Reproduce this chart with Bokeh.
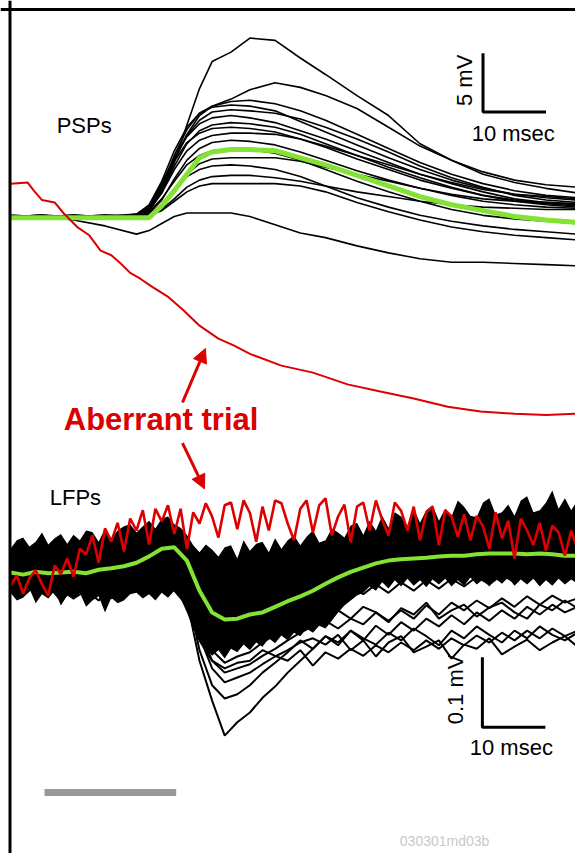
from math import pi
from bokeh.plotting import figure
from bokeh.models import Range1d, Span, Label, Arrow, NormalHead
from bokeh.embed import file_html
from bokeh.resources import INLINE

RED = "#dd0000"
GREEN = "#84e234"

# ---------------- PSPs (mV, relative to baseline) ----------------
psp_t = [0, 5, 10, 15, 20, 22, 24, 26, 28, 30, 32, 35, 38, 42, 46, 50, 55, 60, 65, 70, 75, 80, 85, 90]

psp_a = [0.0, 0.1, -0.1, 0.0, 0.2, 0.5, 2.0, 4.6, 7.8, 10.9, 13.2, 14.0, 15.2, 15.0, 13.5, 12.1, 10.3, 8.6, 6.2, 4.8, 3.6, 2.9, 2.4, 2.0]
psp_b = [0.0, -0.1, 0.1, 0.0, 0.1, 0.6, 2.2, 4.8, 7.0, 8.6, 9.4, 10.0, 10.8, 11.4, 11.0, 10.3, 9.2, 7.6, 6.0, 4.8, 3.8, 3.1, 2.7, 2.5]
psp_c = [0.0, 0.0, -0.2, 0.1, 0.0, 0.8, 2.6, 5.2, 7.4, 8.8, 9.4, 9.8, 9.9, 9.6, 9.0, 8.2, 7.0, 5.8, 4.6, 3.6, 2.8, 2.2, 1.8, 1.6]
psp_d = [0.1, 0.0, 0.1, -0.1, 0.2, 1.0, 3.0, 5.6, 7.6, 8.8, 9.3, 9.5, 9.4, 9.0, 8.1, 7.2, 6.1, 5.0, 4.0, 3.1, 2.4, 1.9, 1.6, 1.4]
psp_e = [-0.1, 0.0, 0.0, 0.1, 0.1, 0.7, 2.4, 4.8, 6.9, 8.2, 8.9, 9.1, 9.0, 8.8, 8.3, 7.6, 6.6, 5.5, 4.3, 3.3, 2.5, 1.8, 1.4, 1.2]
psp_f = [0.0, 0.1, 0.0, 0.0, 0.1, 0.9, 2.8, 5.0, 6.8, 7.9, 8.4, 8.6, 8.4, 8.0, 7.3, 6.6, 5.6, 4.6, 3.6, 2.8, 2.1, 1.5, 1.2, 1.0]
psp_g = [0.0, -0.1, 0.0, 0.1, 0.0, 0.5, 2.1, 4.3, 6.2, 7.3, 7.8, 8.0, 7.9, 7.6, 7.0, 6.2, 5.2, 4.2, 3.3, 2.5, 1.8, 1.3, 1.0, 0.8]
psp_h = [0.1, 0.0, 0.0, -0.1, 0.1, 0.6, 2.0, 4.0, 5.6, 6.5, 6.9, 7.1, 7.1, 7.0, 6.6, 6.0, 5.2, 4.4, 3.6, 2.9, 2.3, 1.9, 1.7, 1.5]
psp_i = [0.0, 0.0, 0.1, 0.0, -0.1, 0.3, 1.4, 3.2, 4.8, 5.8, 6.3, 6.5, 6.4, 6.1, 5.5, 4.8, 3.9, 3.1, 2.4, 1.8, 1.3, 1.0, 0.8, 0.7]
psp_j = [0.0, 0.1, 0.0, 0.0, 0.0, 0.2, 0.9, 2.2, 3.6, 4.5, 4.9, 5.0, 5.0, 5.0, 4.7, 4.2, 3.6, 3.0, 2.4, 1.9, 1.5, 1.3, 1.2, 1.1]
psp_k = [0.0, 0.0, -0.1, 0.0, 0.1, 0.3, 1.0, 2.3, 3.4, 4.0, 4.3, 4.4, 4.3, 4.0, 3.4, 2.6, 1.6, 0.8, 0.1, -0.4, -0.8, -1.1, -1.3, -1.5]
psp_l = [0.0, 0.0, 0.0, 0.1, -0.1, 0.1, 0.6, 1.5, 2.5, 3.1, 3.4, 3.5, 3.5, 3.3, 3.0, 2.6, 2.1, 1.7, 1.3, 1.0, 0.8, 0.7, 0.6, 0.6]
psp_m = [0.0, -0.1, 0.0, 0.0, 0.0, 0.1, 0.5, 1.3, 2.1, 2.6, 2.8, 2.8, 2.8, 2.8, 2.6, 2.1, 1.2, 0.4, -0.3, -0.9, -1.3, -1.6, -1.8, -2.0]
psp_o = [0.0, 0.0, 0.1, 0.0, 0.1, 0.7, 2.5, 4.7, 6.3, 7.1, 7.5, 7.6, 7.5, 7.2, 6.6, 5.9, 4.9, 4.0, 3.1, 2.4, 1.8, 1.4, 1.1, 0.9]
psp_p = [0.0, 0.1, -0.1, 0.0, 0.0, 0.4, 1.5, 3.0, 4.4, 5.2, 5.6, 5.8, 5.7, 5.4, 4.8, 4.0, 3.0, 2.1, 1.3, 0.6, 0.1, -0.2, -0.4, -0.6]
psp_z = [0.0, 0.0, -0.3, -0.8, -1.5, -1.2, -0.6, 0.0, 0.3, 0.3, 0.3, 0.3, 0.0, -0.7, -1.4, -1.8, -2.5, -3.1, -3.6, -3.9, -3.9, -4.0, -4.1, -4.2]

psp_mean = [-0.1, -0.1, -0.1, -0.1, -0.1, -0.1, 0.9, 2.2, 3.6, 5.0, 5.5, 5.7, 5.7, 5.6, 5.0, 4.4, 3.5, 2.6, 1.7, 1.0, 0.5, 0.0, -0.3, -0.5]

psp_red_t = [0, 2.7, 3.7, 5, 7, 8.4, 10.6, 12.5, 14.3, 16, 17.5, 19, 20.6, 22.5, 24.9, 27.5, 30, 33, 35.5, 38,
             43, 48, 53.5, 58.7, 64, 69.4, 74.6, 80, 85, 90]
psp_red = [2.8, 2.9, 2.2, 1.4, 1.2, 0.3, -0.9, -1.6, -2.9, -3.3, -4.0, -4.8, -5.3, -6.0, -6.8, -8.0, -9.3, -10.4, -11.0, -11.7,
           -12.7, -13.3, -14.3, -14.9, -15.5, -16.2, -16.6, -16.8, -16.9, -16.8]

# ---------------- LFPs (microvolts) ----------------
lfp_t1 = list(range(0, 91))      # 1 ms samples
lfp_t2 = list(range(0, 91, 2))   # 2 ms samples

lfp_band_top = [34, 46, 50, 37, 44, 57, 40, 49, 55, 41,
                54, 46, 60, 58, 44, 63, 49, 60, 66, 69,
                57, 66, 74, 63, 77, 80, 69, 64, 54, 39,
                29, 40, 33, 23, 36, 39, 20, 46, 31, 41,
                44, 29, 49, 34, 46, 53, 39, 51, 60, 43,
                46, 63, 57, 50, 67, 71, 54, 74, 60, 81,
                64, 86, 80, 67, 91, 71, 89, 96, 74, 91,
                80, 103, 94, 81, 79, 100, 106, 83, 86, 97,
                81, 103, 109, 86, 89, 100, 117, 91, 106, 89,
                103]
lfp_band_bottom = [-29, -40, -36, -23, -44, -31, -37, -26, -47, -33,
                   -39, -29, -49, -40, -34, -57, -36, -44, -40, -31,
                   -29, -37, -31, -40, -29, -36, -26, -37, -57, -80,
                   -97, -109, -119, -111, -123, -109, -114, -103, -111, -100,
                   -106, -94, -101, -90, -97, -86, -91, -80, -86, -76,
                   -80, -69, -57, -47, -40, -33, -29, -20, -26, -14,
                   -23, -11, -20, -9, -19, -11, -21, -10, -17, -9,
                   -20, -11, -19, -7, -17, -10, -20, -9, -16, -7,
                   -19, -10, -17, -9, -20, -11, -19, -9, -17, -10,
                   -16]

lfp_trial_1 = [-11, -26, -4, -23, -14, -31, -9, -26, -17, -11,
               0, 9, 17, 23, -40, -126, -183, -233, -214, -200,
               -179, -163, -143, -126, -109, -91, -104, -83, -97, -76,
               -89, -71, -83, -66, -77, -61, -74, -57, -69, -54,
               -66, -49, -60, -46, -57, -49]
lfp_trial_2 = [-19, -9, -29, -11, -20, -6, -26, -14, -4, -20,
               -9, 3, 10, 14, -26, -111, -161, -180, -174, -161,
               -143, -129, -114, -97, -109, -91, -100, -83, -94, -103,
               -86, -97, -80, -91, -104, -83, -94, -77, -89, -100,
               -83, -94, -77, -89, -97, -86]
lfp_trial_3 = [3, -14, -6, -23, -3, -17, -9, 3, -14, -4,
               6, 0, 17, 20, -11, -83, -126, -143, -137, -131,
               -119, -109, -97, -86, -77, -69, -80, -66, -74, -57,
               -69, -54, -66, -47, -60, -43, -54, -40, -51, -37,
               -49, -34, -46, -33, -43, -37]
lfp_trial_4 = [-26, -11, -33, -19, -40, -23, -34, -17, -37, -26,
               -20, -29, -17, -26, -47, -97, -126, -137, -129, -126,
               -111, -119, -126, -111, -133, -114, -123, -109, -119, -104,
               -114, -100, -111, -97, -109, -94, -104, -90, -100, -86,
               -97, -83, -94, -80, -91, -83]
lfp_trial_5 = [10, -4, 14, -9, 3, 9, -3, 14, 3, 10,
               20, 29, 34, 39, 10, -40, -76, -83, -71, -61,
               -54, -47, -40, -34, -29, -26, -37, -20, -31, -17,
               -29, -14, -26, -11, -23, -9, -20, -6, -17, -3,
               -14, 0, -11, 3, -9, -3]
lfp_trial_6 = [-14, -30, -9, -21, -34, -17, -26, -40, -20, -29,
               -14, -6, 3, 9, -23, -69, -111, -129, -120, -114,
               -100, -89, -80, -71, -63, -60, -54, -66, -49, -57,
               -71, -51, -60, -43, -66, -54, -46, -63, -50, -43,
               -57, -66, -46, -54, -40, -51]
lfp_trial_7 = [-23, -34, -17, -29, -11, -37, -26, -20, -33, -23,
               -14, -19, -6, -3, -34, -91, -137, -157, -150, -143,
               -131, -120, -111, -100, -94, -103, -89, -111, -97, -120,
               -100, -91, -114, -106, -97, -123, -103, -109, -94, -117,
               -106, -96, -111, -100, -91, -106]

lfp_mean = [0, -3, 1, -1, 0, 1, -1, 4, 6, 9,
            14, 23, 34, 36, 17, -26, -57, -67, -66, -60,
            -57, -49, -41, -34, -26, -16, -7, 1, 7, 13,
            17, 19, 20, 21, 23, 24, 24, 26, 27, 27,
            27, 26, 27, 26, 24, 24]

lfp_red = [-19, -4, -30, -8, 3, -17, -33, 10, -2, 20,
           -6, 34, 26, 53, 14, 63, 44, 71, 30, 77,
           60, 89, 40, 91, 73, 96, 55, 91, 33, 86,
           70, 99, 80, 50, 96, 100, 62, 103, 85, 44,
           94, 60, 103, 99, 70, 46, 91, 103, 57, 96,
           106, 53, 80, 97, 43, 94, 100, 60, 103, 75,
           53, 100, 88, 60, 94, 46, 86, 94, 39, 89,
           80, 51, 83, 46, 81, 66, 34, 86, 49, 74,
           20, 77, 60, 39, 71, 31, 67, 57, 24, 60,
           34]

# scale bars and stimulus bar
psp_bar_t0, psp_bar_v0, psp_bar_dt, psp_bar_dv = 75.0, 8.9, 10.0, 5.0
lfp_bar_t0, lfp_bar_v0, lfp_bar_dt, lfp_bar_dv = 74.9, -0.221, 10.0, 0.1
stim_t = [5.4, 26.3]
stim_v = [-49.06, -49.06]


def mv(u):
    return [x / 1000.0 for x in u]


p = figure(width=575, height=853,
           x_range=Range1d(-1.587, 89.68), y_range=Range1d(-54.26, 18.40),
           output_backend="svg", toolbar_location=None, min_border=0,
           x_axis_location=None, y_axis_location=None,
           outline_line_color=None, background_fill_color="white")
p.extra_y_ranges = {"lfp": Range1d(-0.4014, 0.8171)}
p.xgrid.visible = False
p.ygrid.visible = False

# frame (left and top)
p.add_layout(Span(location=-0.08, dimension="height", line_color="black", line_width=3))
p.add_layout(Span(location=17.63, dimension="width", line_color="black", line_width=3))

# PSP traces
for tr in [psp_a, psp_b, psp_c, psp_d, psp_e, psp_f, psp_g, psp_h,
           psp_i, psp_j, psp_k, psp_l, psp_m, psp_o, psp_p, psp_z]:
    p.line(psp_t, tr, line_color="black", line_width=1.6)
p.line(psp_t, psp_mean, line_color=GREEN, line_width=5)
p.line(psp_red_t, psp_red, line_color=RED, line_width=2)

# LFP traces
p.varea(x=lfp_t1, y1=mv(lfp_band_bottom), y2=mv(lfp_band_top), fill_color="black",
        y_range_name="lfp")
for tr in [lfp_trial_1, lfp_trial_2, lfp_trial_3, lfp_trial_4, lfp_trial_5,
           lfp_trial_6, lfp_trial_7]:
    p.line(lfp_t2, mv(tr), line_color="black", line_width=2.0, y_range_name="lfp")
p.line(lfp_t2, mv(lfp_mean), line_color=GREEN, line_width=4, y_range_name="lfp")
p.line(lfp_t1, mv(lfp_red), line_color=RED, line_width=2.6, y_range_name="lfp")

# scale bars
p.line([psp_bar_t0, psp_bar_t0, psp_bar_t0 + psp_bar_dt],
       [psp_bar_v0 + psp_bar_dv, psp_bar_v0, psp_bar_v0],
       line_color="black", line_width=3)
p.line([lfp_bar_t0, lfp_bar_t0, lfp_bar_t0 + lfp_bar_dt],
       [lfp_bar_v0 + lfp_bar_dv, lfp_bar_v0, lfp_bar_v0],
       line_color="black", line_width=3, y_range_name="lfp")

p.line(stim_t, stim_v, line_color="#999999", line_width=7)

FONT = "Liberation Sans"
def lab(x, y, text, size="22px", angle=0, color="black", style="normal", rng="default"):
    p.add_layout(Label(x=x, y=y, text=text, text_font=FONT, text_font_size=size,
                       text_color=color, text_font_style=style, angle=angle,
                       text_align="center", text_baseline="middle", y_range_name=rng))

lab(11.7, 7.75, "PSPs")
lab(72.1, 11.6, "5 mV", angle=pi / 2)
lab(79.8, 7.03, "10 msec")
lab(10.3, 0.107, "LFPs", rng="lfp")
lab(70.6, -0.167, "0.1 mV", angle=pi / 2, rng="lfp")
lab(79.5, -0.250, "10 msec", rng="lfp")
lab(23.9, -17.3, "Aberrant trial", size="31px", color=RED, style="bold")
lab(68.9, -53.2, "030301md03b", size="14px", color="#c8c8c8")

for (x0, y0, x1, y1) in [(27.3, -15.84, 30.95, -11.24), (27.3, -19.3, 30.8, -23.2)]:
    p.add_layout(Arrow(end=NormalHead(size=14, fill_color=RED, line_color=RED),
                       x_start=x0, y_start=y0, x_end=x1, y_end=y1,
                       line_color=RED, line_width=3))

open("out.html", "w").write(file_html(p, INLINE))
